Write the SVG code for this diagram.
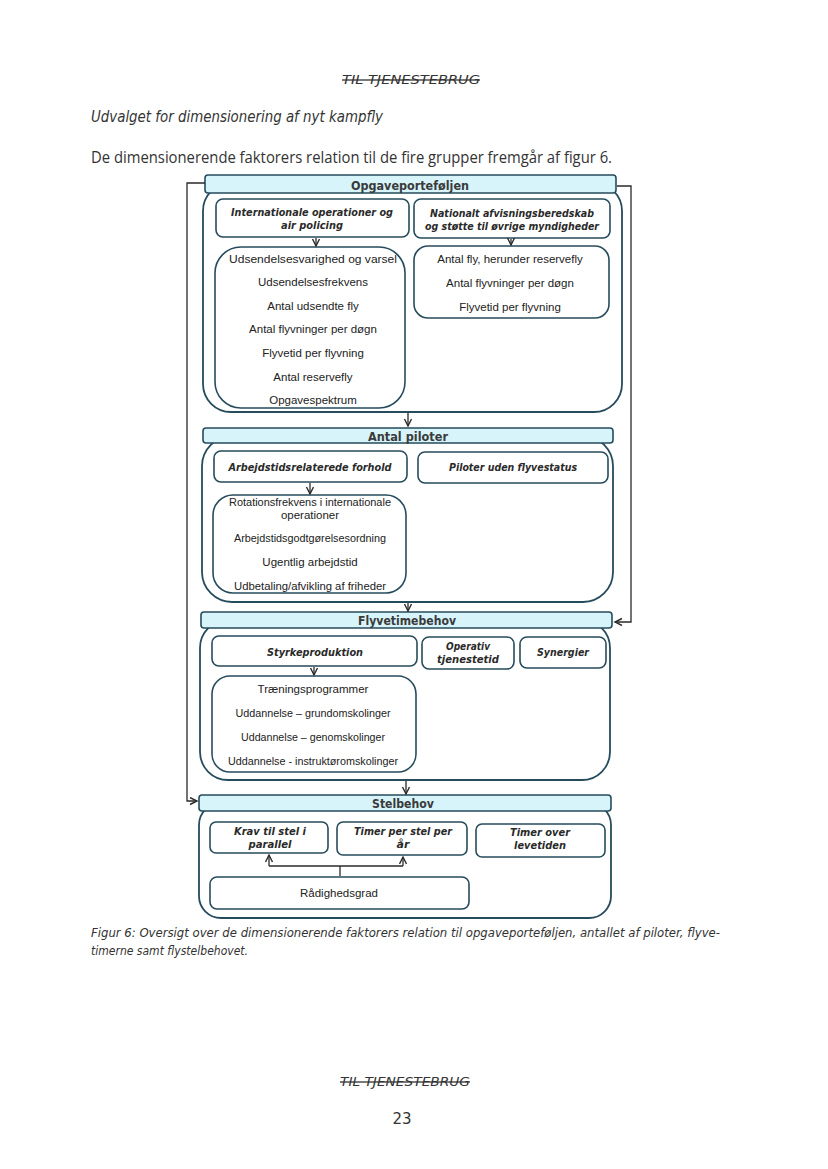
<svg xmlns="http://www.w3.org/2000/svg" width="828" height="1169" viewBox="0 0 828 1169">
<style>
.page{font-family:"DejaVu Sans","Liberation Sans",sans-serif;fill:#333}
.hdr{fill:#d6f4fa;stroke:#264b5c;stroke-width:1.6}
.cont{fill:#fff;stroke:#264b5c;stroke-width:1.8}
.box{fill:#fff;stroke:#264b5c;stroke-width:1.6}
.ht{font-family:"DejaVu Sans",sans-serif;font-weight:bold;font-size:13px;fill:#3a3a3a;text-anchor:middle}
.bt{font-family:"DejaVu Sans",sans-serif;font-weight:bold;font-style:italic;font-size:11px;fill:#2a2a2a;text-anchor:middle}
.lt{font-family:"Liberation Sans",sans-serif;font-size:11.5px;fill:#222;text-anchor:middle}
.conn{fill:none;stroke:#2a2a2a;stroke-width:1.3}
</style>
<defs>
<marker id="ar" markerWidth="10" markerHeight="10" refX="8" refY="4" orient="auto" markerUnits="userSpaceOnUse">
<path d="M1,0.5 L8,4 L1,7.5" fill="none" stroke="#2a2a2a" stroke-width="1.4"/>
</marker>
</defs>
<rect width="828" height="1169" fill="#fff"/>

<g id="page-text" class="page">
<text x="411" y="84" font-size="13" font-style="italic" text-anchor="middle" text-decoration="line-through" textLength="138" lengthAdjust="spacingAndGlyphs">TIL TJENESTEBRUG</text>
<text x="91" y="122" font-size="15" font-style="italic" textLength="292" lengthAdjust="spacingAndGlyphs">Udvalget for dimensionering af nyt kampfly</text>
<text x="91" y="163" font-family="Open Sans, sans-serif" font-size="16" textLength="521" lengthAdjust="spacingAndGlyphs">De dimensionerende faktorers relation til de fire grupper fremgår af figur 6.</text>
<text x="91" y="937" font-size="12" font-style="italic" textLength="629" lengthAdjust="spacingAndGlyphs">Figur 6: Oversigt over de dimensionerende faktorers relation til opgaveporteføljen, antallet af piloter, flyve-</text>
<text x="91" y="955" font-size="12" font-style="italic" textLength="157" lengthAdjust="spacingAndGlyphs">timerne samt flystelbehovet.</text>
<text x="405" y="1086" font-size="13" font-style="italic" text-anchor="middle" text-decoration="line-through" textLength="130" lengthAdjust="spacingAndGlyphs">TIL TJENESTEBRUG</text>
<text x="402" y="1124" font-size="15" text-anchor="middle">23</text>
</g>

<g id="opgaveportefoljen">
<rect class="cont" x="203" y="183" width="419" height="229" rx="28"/>
<rect class="hdr" x="205" y="175" width="411" height="18" rx="3"/>
<text class="ht" x="410" y="190" textLength="118" lengthAdjust="spacingAndGlyphs">Opgaveporteføljen</text>
</g>
<g id="internationale">
<rect class="box" x="216" y="199" width="193" height="38" rx="7"/>
<text class="bt" x="312" y="216" textLength="162" lengthAdjust="spacingAndGlyphs">Internationale operationer og</text>
<text class="bt" x="312" y="229" textLength="62" lengthAdjust="spacingAndGlyphs">air policing</text>
</g>
<g id="nationalt">
<rect class="box" x="414" y="199" width="196" height="39" rx="7"/>
<text class="bt" x="512" y="217" textLength="164" lengthAdjust="spacingAndGlyphs">Nationalt afvisningsberedskab</text>
<text class="bt" x="512" y="230" textLength="174" lengthAdjust="spacingAndGlyphs">og støtte til øvrige myndigheder</text>
</g>
<g id="int-list">
<rect class="box" x="215" y="247" width="190" height="161" rx="26"/>
<text class="lt" x="313" y="263" textLength="168" lengthAdjust="spacingAndGlyphs">Udsendelsesvarighed og varsel</text>
<text class="lt" x="313" y="286">Udsendelsesfrekvens</text>
<text class="lt" x="313" y="310">Antal udsendte fly</text>
<text class="lt" x="313" y="333">Antal flyvninger per døgn</text>
<text class="lt" x="313" y="357">Flyvetid per flyvning</text>
<text class="lt" x="313" y="381">Antal reservefly</text>
<text class="lt" x="313" y="404">Opgavespektrum</text>
</g>
<g id="nat-list">
<rect class="box" x="414" y="246" width="195" height="72" rx="14"/>
<text class="lt" x="510" y="263">Antal fly, herunder reservefly</text>
<text class="lt" x="510" y="287">Antal flyvninger per døgn</text>
<text class="lt" x="510" y="311">Flyvetid per flyvning</text>
</g>

<g id="antal-piloter">
<rect class="cont" x="202" y="436" width="411" height="166" rx="30"/>
<rect class="hdr" x="203" y="428" width="410" height="15" rx="3"/>
<text class="ht" x="408" y="441" textLength="80" lengthAdjust="spacingAndGlyphs">Antal piloter</text>
</g>
<g id="arbejdstid">
<rect class="box" x="214" y="451" width="193" height="31" rx="7"/>
<text class="bt" x="310" y="471" textLength="163" lengthAdjust="spacingAndGlyphs">Arbejdstidsrelaterede forhold</text>
</g>
<g id="piloter-uden">
<rect class="box" x="418" y="452" width="190" height="31" rx="7"/>
<text class="bt" x="513" y="471" textLength="128" lengthAdjust="spacingAndGlyphs">Piloter uden flyvestatus</text>
</g>
<g id="arb-list">
<rect class="box" x="213" y="495" width="193" height="98" rx="20"/>
<text class="lt" x="310" y="506" textLength="162" lengthAdjust="spacingAndGlyphs">Rotationsfrekvens i internationale</text>
<text class="lt" x="310" y="519">operationer</text>
<text class="lt" x="310" y="542" textLength="152" lengthAdjust="spacingAndGlyphs">Arbejdstidsgodtgørelsesordning</text>
<text class="lt" x="310" y="566">Ugentlig arbejdstid</text>
<text class="lt" x="310" y="590" textLength="152" lengthAdjust="spacingAndGlyphs">Udbetaling/afvikling af friheder</text>
</g>

<g id="flyvetimebehov">
<rect class="cont" x="200" y="620" width="410" height="160" rx="28"/>
<rect class="hdr" x="201" y="612" width="411" height="16" rx="3"/>
<text class="ht" x="407" y="625" textLength="98" lengthAdjust="spacingAndGlyphs">Flyvetimebehov</text>
</g>
<g id="styrkeproduktion">
<rect class="box" x="212" y="636" width="205" height="30" rx="7"/>
<text class="bt" x="315" y="656" textLength="96" lengthAdjust="spacingAndGlyphs">Styrkeproduktion</text>
</g>
<g id="operativ">
<rect class="box" x="422" y="637" width="92" height="32" rx="7"/>
<text class="bt" x="468" y="650" textLength="44" lengthAdjust="spacingAndGlyphs">Operativ</text>
<text class="bt" x="468" y="663" textLength="62" lengthAdjust="spacingAndGlyphs">tjenestetid</text>
</g>
<g id="synergier">
<rect class="box" x="520" y="637" width="86" height="31" rx="7"/>
<text class="bt" x="563" y="656" textLength="52" lengthAdjust="spacingAndGlyphs">Synergier</text>
</g>
<g id="styrke-list">
<rect class="box" x="212" y="676" width="204" height="96" rx="18"/>
<text class="lt" x="313" y="693">Træningsprogrammer</text>
<text class="lt" x="313" y="717" textLength="155" lengthAdjust="spacingAndGlyphs">Uddannelse – grundomskolinger</text>
<text class="lt" x="313" y="741" textLength="144" lengthAdjust="spacingAndGlyphs">Uddannelse – genomskolinger</text>
<text class="lt" x="313" y="765" textLength="170" lengthAdjust="spacingAndGlyphs">Uddannelse - instruktøromskolinger</text>
</g>

<g id="stelbehov">
<rect class="cont" x="199" y="803" width="412" height="115" rx="22"/>
<rect class="hdr" x="199" y="795" width="412" height="16" rx="3"/>
<text class="ht" x="403" y="808" textLength="62" lengthAdjust="spacingAndGlyphs">Stelbehov</text>
</g>
<g id="krav">
<rect class="box" x="210" y="822" width="118" height="31" rx="6"/>
<text class="bt" x="270" y="835" textLength="72" lengthAdjust="spacingAndGlyphs">Krav til stel i</text>
<text class="bt" x="270" y="848" textLength="43" lengthAdjust="spacingAndGlyphs">parallel</text>
</g>
<g id="timer-per-stel">
<rect class="box" x="337" y="822" width="130" height="33" rx="6"/>
<text class="bt" x="403" y="835" textLength="98" lengthAdjust="spacingAndGlyphs">Timer per stel per</text>
<text class="bt" x="403" y="848">år</text>
</g>
<g id="timer-over">
<rect class="box" x="476" y="824" width="129" height="33" rx="6"/>
<text class="bt" x="540" y="836" textLength="60" lengthAdjust="spacingAndGlyphs">Timer over</text>
<text class="bt" x="540" y="849" textLength="52" lengthAdjust="spacingAndGlyphs">levetiden</text>
</g>
<g id="radighedsgrad">
<rect class="box" x="210" y="877" width="259" height="32" rx="7"/>
<text class="lt" x="339" y="897">Rådighedsgrad</text>
</g>

<g id="connectors">
<polyline class="conn" points="205,183 187,183 187,801 197,801" marker-end="url(#ar)"/>
<polyline class="conn" points="617,186 631,186 631,622 615,622" marker-end="url(#ar)"/>
<line class="conn" x1="408" y1="413" x2="408" y2="426" marker-end="url(#ar)"/>
<line class="conn" x1="408" y1="603" x2="408" y2="611" marker-end="url(#ar)"/>
<line class="conn" x1="406" y1="781" x2="406" y2="794" marker-end="url(#ar)"/>
<line class="conn" x1="316" y1="238" x2="316" y2="246" marker-end="url(#ar)"/>
<line class="conn" x1="511" y1="239" x2="511" y2="245" marker-end="url(#ar)"/>
<line class="conn" x1="310" y1="483" x2="310" y2="494" marker-end="url(#ar)"/>
<line class="conn" x1="314" y1="667" x2="314" y2="675" marker-end="url(#ar)"/>
<polyline class="conn" points="340,876 340,866"/>
<polyline class="conn" points="269,866 403,866"/>
<line class="conn" x1="269" y1="866" x2="269" y2="855" marker-end="url(#ar)"/>
<line class="conn" x1="403" y1="866" x2="403" y2="857" marker-end="url(#ar)"/>
</g>
</svg>
